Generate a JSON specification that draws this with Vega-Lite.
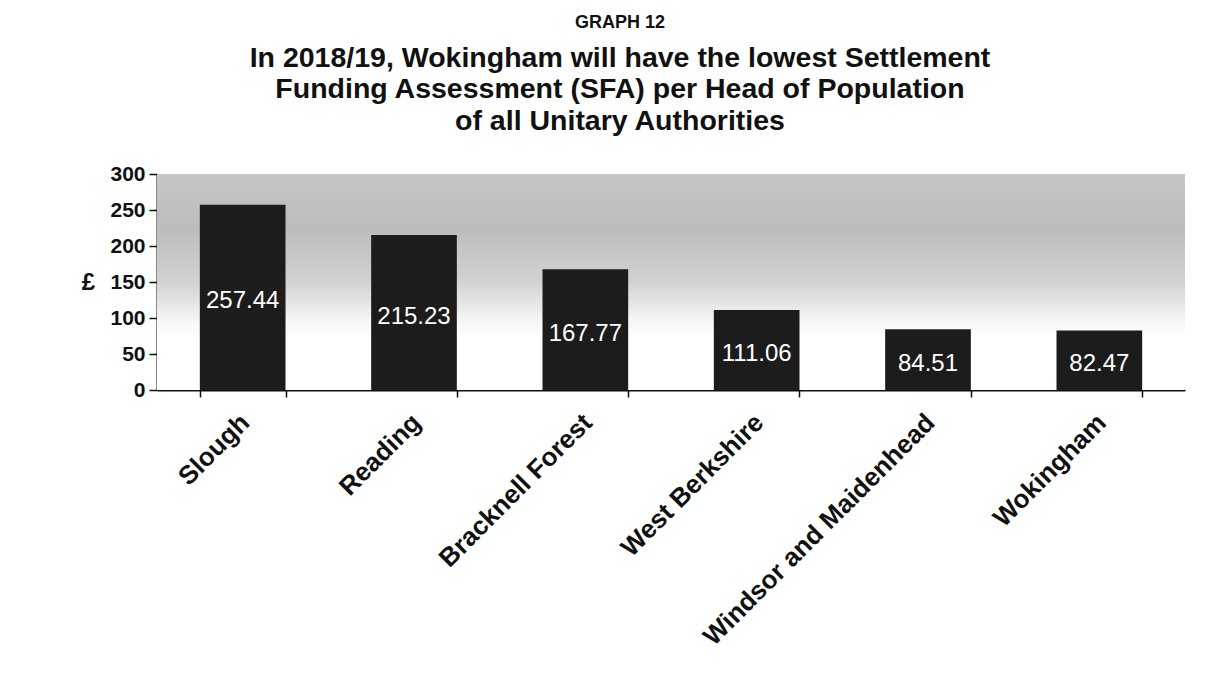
{
  "$schema": "https://vega.github.io/schema/vega-lite/v6.json",
  "width": 1028,
  "height": 216,
  "autosize": "none",
  "padding": {"left": 157, "top": 174, "right": 24, "bottom": 295},
  "background": "white",
  "config": {
    "font": "Liberation Sans",
    "view": {"stroke": null}
  },
  "title": {
    "text": "GRAPH 12",
    "subtitle": [
      "In 2018/19, Wokingham will have the lowest Settlement",
      "Funding Assessment (SFA) per Head of Population",
      "of all Unitary Authorities"
    ],
    "anchor": "middle",
    "frame": "group",
    "dx": -51,
    "offset": 28,
    "fontSize": 18,
    "fontWeight": "bold",
    "color": "#111111",
    "subtitleFontSize": 28.5,
    "subtitleFontWeight": "bold",
    "subtitleColor": "#111111",
    "subtitleLineHeight": 31.5,
    "subtitlePadding": 12
  },
  "data": {
    "values": [
      {"authority": "Slough", "value": 257.44},
      {"authority": "Reading", "value": 215.23},
      {"authority": "Bracknell Forest", "value": 167.77},
      {"authority": "West Berkshire", "value": 111.06},
      {"authority": "Windsor and Maidenhead", "value": 84.51},
      {"authority": "Wokingham", "value": 82.47}
    ]
  },
  "layer": [
    {
      "mark": {
        "type": "rect",
        "fill": {
          "gradient": "linear",
          "x1": 0, "y1": 0, "x2": 0, "y2": 1,
          "stops": [
            {"offset": 0, "color": "#c6c6c6"},
            {"offset": 0.25, "color": "#bcbcbc"},
            {"offset": 0.5, "color": "#d2d2d2"},
            {"offset": 0.68, "color": "#f6f6f6"},
            {"offset": 0.76, "color": "#ffffff"},
            {"offset": 1, "color": "#ffffff"}
          ]
        }
      },
      "encoding": {
        "y": {"datum": 0, "type": "quantitative", "scale": {"domain": [0, 300]}, "axis": null},
        "y2": {"datum": 300}
      }
    },
    {
      "mark": {"type": "bar", "color": "#1c1c1c"},
      "encoding": {
        "x": {
          "field": "authority", "type": "nominal", "sort": null,
          "scale": {"paddingInner": 0.5, "paddingOuter": 0.25},
          "axis": {
            "title": null, "labelAngle": -45, "labelFontSize": 26, "labelFontWeight": "bold",
            "labelColor": "#111111", "domainColor": "#111111", "domainWidth": 2,
            "tickBand": "extent", "tickColor": "#111111", "tickSize": 7, "tickWidth": 1.5,
            "labelPadding": 12, "labelOffset": -7, "labelLimit": 600
          }
        },
        "y": {
          "field": "value", "type": "quantitative",
          "scale": {"domain": [0, 300]},
          "axis": {
            "values": [0, 50, 100, 150, 200, 250, 300],
            "grid": false, "labelFontSize": 21, "labelFontWeight": "bold", "labelColor": "#111111",
            "domainColor": "#111111", "domainWidth": 2, "tickColor": "#111111", "tickSize": 8, "tickWidth": 1.5,
            "labelPadding": 4,
            "title": "£", "titleAngle": 0, "titleFontSize": 24, "titleFontWeight": "bold", "titleColor": "#111111",
            "titleX": -69, "titleY": 108, "titleAlign": "center", "titleBaseline": "middle"
          }
        }
      }
    },
    {
      "mark": {"type": "text", "color": "white", "fontSize": 24, "baseline": "middle", "dy": 4},
      "encoding": {
        "x": {
          "field": "authority", "type": "nominal", "sort": null,
          "scale": {"paddingInner": 0.5, "paddingOuter": 0.25},
          "axis": {
            "title": null, "labelAngle": -45, "labelFontSize": 26, "labelFontWeight": "bold",
            "labelColor": "#111111", "domainColor": "#111111", "domainWidth": 2,
            "tickBand": "extent", "tickColor": "#111111", "tickSize": 7, "tickWidth": 1.5,
            "labelPadding": 12, "labelOffset": -7, "labelLimit": 600
          }
        },
        "y": {"field": "value", "type": "quantitative", "scale": {"domain": [0, 600]}, "axis": null},
        "text": {"field": "value", "type": "quantitative", "format": ".2f"}
      }
    }
  ],
  "resolve": {"scale": {"y": "independent"}}
}
